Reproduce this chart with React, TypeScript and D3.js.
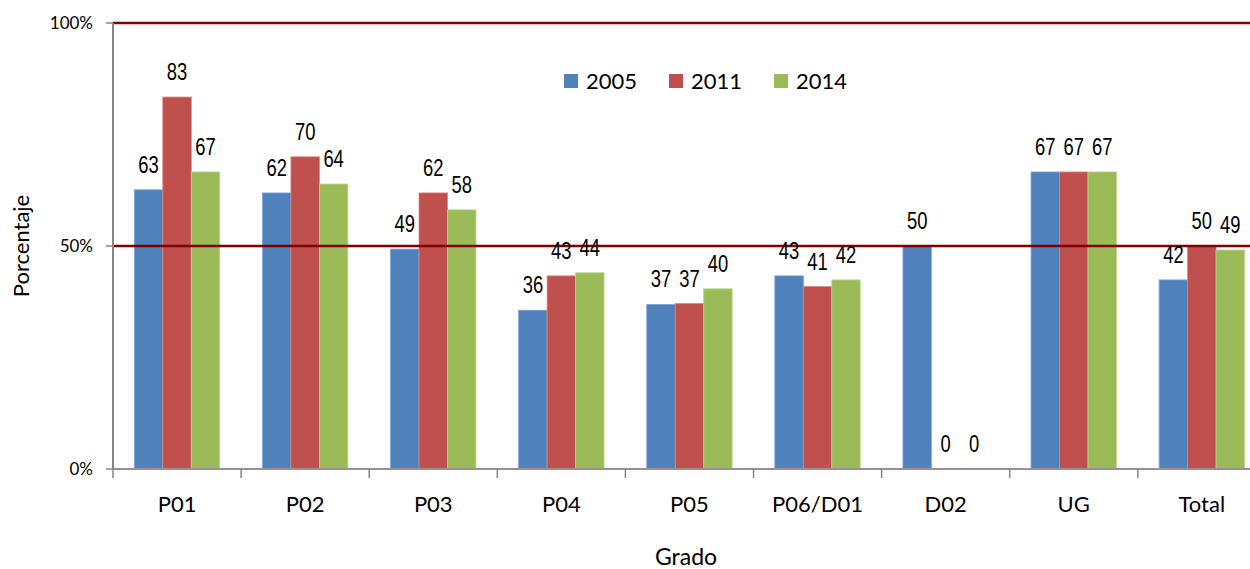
import React from "react";
import * as d3 from "d3";

const width = 1250;
const height = 569;
const margin = { top: 23, left: 113, bottom: 100 };
const step = 128.1;

const categories = ["P01", "P02", "P03", "P04", "P05", "P06/D01", "D02", "UG", "Total"];
const seriesNames = ["2005", "2011", "2014"];
const colors = ["#4F81BD", "#C0504D", "#9BBB59"];
const borders = ["#7ea3d3", "#d98582", "#bcd48e"];

// percentages
const values2005 = [62.6, 61.9, 49.3, 35.6, 36.9, 43.3, 49.9, 66.6, 42.4];
const values2011 = [83.4, 70.0, 61.9, 43.3, 37.1, 40.9, 0, 66.6, 49.9];
const values2014 = [66.6, 63.9, 58.1, 44.0, 40.4, 42.4, 0, 66.6, 49.1];
const series = [values2005, values2011, values2014];

const yTicks = [0, 50, 100];
const gridLines = [50, 100];

const narrow = 0.8; // squeeze for the narrow data label font

export default function App() {
  const plotBottom = height - margin.bottom; // 469
  const x = d3
    .scaleBand<string>()
    .domain(categories)
    .range([margin.left, margin.left + step * categories.length])
    .paddingInner(1 / 3)
    .paddingOuter(1 / 6);
  const xs = d3
    .scaleBand<string>()
    .domain(seriesNames)
    .range([0, x.bandwidth()]);
  const y = d3.scaleLinear().domain([0, 100]).range([plotBottom, margin.top]);

  const bounds = categories.map((_, i) => margin.left + i * step);
  bounds.push(margin.left + categories.length * step);

  return (
    <svg
      width={width}
      height={height}
      style={{ position: "absolute", left: 0, top: 0, background: "#fff" }}
    >
      {/* bars */}
      {series.map((vals, si) =>
        vals.map((v, ci) => (
          <rect
            key={`${si}-${ci}`}
            x={(x(categories[ci]) ?? 0) + (xs(seriesNames[si]) ?? 0)}
            y={y(v)}
            width={xs.bandwidth()}
            height={plotBottom - y(v)}
            fill={colors[si]}
            stroke={borders[si]}
            strokeWidth={0.8}
          />
        ))
      )}

      {/* grid lines */}
      {gridLines.map((g) => (
        <line
          key={g}
          x1={margin.left}
          x2={width}
          y1={y(g)}
          y2={y(g)}
          stroke="#800000"
          strokeWidth={2.5}
        />
      ))}

      {/* x axis */}
      <line x1={margin.left} x2={width} y1={plotBottom} y2={plotBottom} stroke="#a08e8e" strokeWidth={2} />
      {bounds.map((b, i) => (
        <line key={i} x1={b} x2={b} y1={plotBottom} y2={plotBottom + 9} stroke="#868686" strokeWidth={1.5} />
      ))}
      {categories.map((c) => (
        <text
          key={c}
          x={(x(c) ?? 0) + x.bandwidth() / 2}
          y={512}
          textAnchor="middle"
          fontFamily="Lato, 'Open Sans', sans-serif"
          fontSize={22}
          fill="#000"
        >
          {c}
        </text>
      ))}

      {/* y axis */}
      <line x1={margin.left} x2={margin.left} y1={margin.top} y2={plotBottom} stroke="#868686" strokeWidth={2} />
      {yTicks.map((t) => (
        <g key={t}>
          <line x1={margin.left - 7} x2={margin.left} y1={y(t)} y2={y(t)} stroke="#868686" strokeWidth={1.5} />
          <text
            x={93}
            y={y(t) + 6}
            textAnchor="end"
            fontFamily="Lato, 'Open Sans', sans-serif"
            fontSize={17}
            fill="#000"
          >
            {t}%
          </text>
        </g>
      ))}

      {/* data labels */}
      {series.map((vals, si) =>
        vals.map((v, ci) => {
          const cx = (x(categories[ci]) ?? 0) + (xs(seriesNames[si]) ?? 0) + xs.bandwidth() / 2;
          return (
            <text
              key={`l${si}-${ci}`}
              transform={`translate(${cx}, ${y(v) - 25 + 8}) scale(${narrow}, 1)`}
              textAnchor="middle"
              fontFamily="'Liberation Sans', Arial, sans-serif"
              fontSize={23}
              fill="#000"
            >
              {Math.round(v)}
            </text>
          );
        })
      )}

      {/* legend */}
      {seriesNames.map((s, i) => (
        <g key={s} transform={`translate(${564 + i * 105}, 74)`}>
          <rect width={14} height={14} fill={colors[i]} />
          <text
            x={22}
            y={15}
            fontFamily="Lato, 'Open Sans', sans-serif"
            fontSize={22}
            fill="#000"
          >
            {s}
          </text>
        </g>
      ))}

      {/* axis titles */}
      <text
        transform={`translate(29, ${y(50)}) rotate(-90)`}
        textAnchor="middle"
        fontFamily="Lato, 'Open Sans', sans-serif"
        fontSize={22}
        fill="#000"
      >
        Porcentaje
      </text>
      <text
        x={686}
        y={565}
        textAnchor="middle"
        fontFamily="Lato, 'Open Sans', sans-serif"
        fontSize={23}
        fill="#000"
      >
        Grado
      </text>
    </svg>
  );
}
